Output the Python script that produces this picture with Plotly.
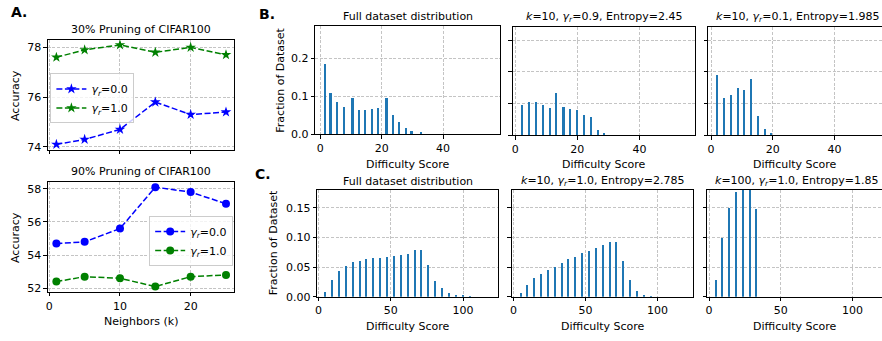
import plotly.graph_objects as go

W, H = 882, 341

# ---------------- data ----------------
neighbors = [1, 5, 10, 15, 20, 25]
acc30_g0 = [74.1, 74.3, 74.7, 75.8, 75.3, 75.4]
acc30_g1 = [77.6, 77.9, 78.1, 77.8, 78.0, 77.7]
acc90_g0 = [54.7, 54.8, 55.6, 58.1, 57.8, 57.1]
acc90_g1 = [52.4, 52.7, 52.6, 52.1, 52.7, 52.8]

b1_x = [1.6, 3.6, 5.6, 7.8, 10.7, 12.8, 14.7, 16.8, 18.8, 21.8, 23.8, 25.9, 28.0, 29.9, 33.0]
b1_y = [0.184, 0.108, 0.084, 0.072, 0.094, 0.063, 0.064, 0.065, 0.069, 0.095, 0.050, 0.031, 0.016, 0.008, 0.003]
b2_x = [2.1, 4.3, 6.6, 8.9, 11.1, 13.2, 15.5, 17.6, 19.9, 22.0, 24.2, 26.5, 28.6]
b2_y = [0.095, 0.102, 0.102, 0.095, 0.085, 0.131, 0.086, 0.081, 0.079, 0.062, 0.057, 0.014, 0.005]
b3_x = [2.1, 4.4, 6.5, 8.8, 10.9, 13.2, 15.3, 17.6, 19.7]
b3_y = [0.189, 0.115, 0.125, 0.149, 0.140, 0.177, 0.060, 0.019, 0.004]

c_x_full = [4.8, 9.5, 14.3, 19.0, 23.8, 28.6, 33.3, 38.1, 42.9, 47.6, 52.4, 57.1,
            61.9, 66.7, 71.4, 76.2, 81.0, 85.7, 90.5, 95.2, 100.0, 104.8]
c1_y = [0.0083, 0.029, 0.044, 0.052, 0.058, 0.061, 0.063, 0.065, 0.065, 0.067, 0.068, 0.070,
        0.072, 0.079, 0.079, 0.053, 0.027, 0.014, 0.007, 0.003, 0.0017, 0.001]
c2_x = [4.8, 9.5, 14.3, 19.0, 23.8, 28.6, 33.3, 38.1, 42.9, 47.6, 52.4, 57.1,
        61.9, 66.7, 71.4, 76.2, 81.0, 85.7, 90.5, 95.2]
c2_y = [0.0066, 0.020, 0.032, 0.0386, 0.045, 0.050, 0.057, 0.063, 0.067, 0.073, 0.078, 0.083,
        0.087, 0.093, 0.093, 0.060, 0.028, 0.010, 0.003, 0.001]
c3_x = [4.8, 9.5, 14.3, 19.0, 23.8, 28.6, 33.3]
c3_y = [0.029, 0.099, 0.150, 0.176, 0.200, 0.200, 0.148]

FONT = "DejaVu Sans"
BLUE = "#1f77b4"
GRID = "#c4c4c4"
GRIDDASH = "3px,1.6px"

def dx(a, b):
    return [a / W, b / W]

def dy(top, bottom):
    return [1 - bottom / H, 1 - top / H]

fig = go.Figure()

axes = {
    1: dict(xd=(46, 233), yd=(41, 153), xr=[-0.2, 26.2], yr=[73.88, 78.29],
            xt=[0, 10, 20], yt=[74, 76, 78], xl=False, yl=True, mr=True, yfmt=None),
    2: dict(xd=(46, 233), yd=(186, 298), xr=[-0.2, 26.2], yr=[51.78, 58.4],
            xt=[0, 10, 20], yt=[52, 54, 56, 58], xl=True, yl=True, mr=True, yfmt=None),
    3: dict(xd=(314, 499), yd=(27, 137), xr=[-1.6, 58.5], yr=[0, 0.285],
            xt=[0, 20, 40], yt=[0.0, 0.1, 0.2], xl=True, yl=True, mr=True, yfmt=".1f"),
    4: dict(xd=(512, 695), yd=(28, 138), xr=[-0.75, 58], yr=[0, 0.34],
            xt=[0, 20, 40], yt=[0.0, 0.1, 0.2, 0.3], xl=True, yl=False, mr=True, yfmt=None),
    5: dict(xd=(708, 882), yd=(28, 138), xr=[-0.87, 55.4], yr=[0, 0.34],
            xt=[0, 20, 40], yt=[0.0, 0.1, 0.2, 0.3], xl=True, yl=False, mr=False, yfmt=None),
    6: dict(xd=(316, 497), yd=(194, 303), xr=[-0.9, 124.1], yr=[0, 0.18],
            xt=[0, 50, 100], yt=[0.0, 0.05, 0.10, 0.15], xl=True, yl=True, mr=True, yfmt=".2f"),
    7: dict(xd=(511, 693), yd=(194, 303), xr=[-1.15, 124.9], yr=[0, 0.18],
            xt=[0, 50, 100], yt=[0.0, 0.05, 0.10, 0.15], xl=True, yl=False, mr=True, yfmt=None),
    8: dict(xd=(707, 882), yd=(194, 303), xr=[-1.2, 120.5], yr=[0, 0.18],
            xt=[0, 50, 100], yt=[0.0, 0.05, 0.10, 0.15], xl=True, yl=False, mr=False, yfmt=None),
}

layout = {}
for i, a in axes.items():
    xn = "xaxis" if i == 1 else f"xaxis{i}"
    yn = "yaxis" if i == 1 else f"yaxis{i}"
    ya = "y" if i == 1 else f"y{i}"
    xa = "x" if i == 1 else f"x{i}"
    layout[xn] = dict(domain=dx(*a["xd"]), range=a["xr"], anchor=ya,
                      tickmode="array", tickvals=a["xt"], showticklabels=a["xl"],
                      showline=True, linecolor="black", linewidth=1, mirror=True,
                      ticks="outside", ticklen=3.5, tickwidth=0.8, tickcolor="black",
                      showgrid=True, gridcolor=GRID, griddash=GRIDDASH, gridwidth=0.8,
                      zeroline=False, tickfont=dict(family=FONT, size=11, color="black"))
    ycfg = dict(domain=dy(*a["yd"]), range=a["yr"], anchor=xa,
                tickmode="array", tickvals=a["yt"], showticklabels=a["yl"],
                showline=True, linecolor="black", linewidth=1, mirror=a["mr"],
                ticks="outside", ticklen=3.5, tickwidth=0.8, tickcolor="black",
                showgrid=True, gridcolor=GRID, griddash=GRIDDASH, gridwidth=0.8,
                zeroline=False, tickfont=dict(family=FONT, size=11, color="black"))
    if a["yfmt"]:
        ycfg["tickformat"] = a["yfmt"]
    layout[yn] = ycfg

G0 = "<i>γ<sub>r</sub></i>=0.0"
G1 = "<i>γ<sub>r</sub></i>=1.0"
LDASH = "6px,2.5px"

fig.add_trace(go.Scatter(x=neighbors, y=acc30_g0, mode="lines+markers", name=G0,
                         line=dict(color="blue", dash=LDASH, width=1.5),
                         marker=dict(symbol="star", size=8, color="blue"),
                         xaxis="x", yaxis="y", legend="legend"))
fig.add_trace(go.Scatter(x=neighbors, y=acc30_g1, mode="lines+markers", name=G1,
                         line=dict(color="green", dash=LDASH, width=1.5),
                         marker=dict(symbol="star", size=8, color="green"),
                         xaxis="x", yaxis="y", legend="legend"))
fig.add_trace(go.Scatter(x=neighbors, y=acc90_g0, mode="lines+markers", name=G0,
                         line=dict(color="blue", dash=LDASH, width=1.5),
                         marker=dict(symbol="circle", size=8, color="blue"),
                         xaxis="x2", yaxis="y2", legend="legend2"))
fig.add_trace(go.Scatter(x=neighbors, y=acc90_g1, mode="lines+markers", name=G1,
                         line=dict(color="green", dash=LDASH, width=1.5),
                         marker=dict(symbol="circle", size=8, color="green"),
                         xaxis="x2", yaxis="y2", legend="legend2"))

bars = [(3, b1_x, b1_y, 0.65), (4, b2_x, b2_y, 0.65), (5, b3_x, b3_y, 0.65),
        (6, c_x_full, c1_y, 0.8), (7, c2_x, c2_y, 0.8), (8, c3_x, c3_y, 0.8)]
for i, xs, ys, w in bars:
    fig.add_trace(go.Bar(x=xs, y=ys, width=w, marker=dict(color=BLUE, line=dict(width=0)),
                         xaxis=f"x{i}", yaxis=f"y{i}", showlegend=False))

def ann(text, x, y, size=11, bold=False, angle=0, xanchor="center"):
    t = f"<b>{text}</b>" if bold else text
    return dict(text=t, x=x / W, y=1 - y / H, xref="paper", yref="paper",
                showarrow=False, xanchor=xanchor, yanchor="middle", textangle=angle,
                font=dict(family=FONT, size=size, color="black"))

K = "<i>k</i>"
GR = "<i>γ<sub>r</sub></i>"
annotations = [
    ann("A.", 7, 12, size=14, bold=True, xanchor="left"),
    ann("B.", 256, 14, size=14, bold=True, xanchor="left"),
    ann("C.", 252, 178, size=14, bold=True, xanchor="left"),
    ann("30% Pruning of CIFAR100", 139.5, 30),
    ann("90% Pruning of CIFAR100", 139.5, 175),
    ann("Accuracy", 13, 97, angle=-90),
    ann("Accuracy", 13, 242, angle=-90),
    ann("Neighbors (k)", 139.5, 328),
    ann("Full dataset distribution", 406.5, 17),
    ann(f"{K}=10, {GR}=0.9, Entropy=2.45", 603.5, 17),
    ann(f"{K}=10, {GR}=0.1, Entropy=1.985", 881, 17, xanchor="right"),
    ann("Fraction of Dataset", 279, 82, angle=-90),
    ann("Fraction of Dataset", 273, 248, angle=-90),
    ann("Difficulty Score", 406.5, 168),
    ann("Difficulty Score", 603.5, 168),
    ann("Difficulty Score", 795, 168),
    ann("Full dataset distribution", 406.5, 185),
    ann(f"{K}=10, {GR}=1.0, Entropy=2.785", 602, 185),
    ann(f"{K}=100, {GR}=1.0, Entropy=1.85", 880, 185, xanchor="right"),
    ann("Difficulty Score", 406.5, 333),
    ann("Difficulty Score", 602, 333),
    ann("Difficulty Score", 795, 333),
]

leg_common = dict(xanchor="left", yanchor="top", bgcolor="rgba(255,255,255,0.8)",
                  bordercolor="#cccccc", borderwidth=1,
                  font=dict(family=FONT, size=11, color="black"),
                  itemwidth=30, tracegroupgap=0)

fig.update_layout(
    width=W, height=H,
    margin=dict(l=0, r=0, t=0, b=0),
    paper_bgcolor="white", plot_bgcolor="white",
    showlegend=True, bargap=0,
    annotations=annotations,
    legend=dict(x=48.5 / W, y=1 - 75 / H, **leg_common),
    legend2=dict(x=147.5 / W, y=1 - 220.5 / H, **leg_common),
    **layout,
)

fig.write_html(
    "out.html",
    config={"displayModeBar": False},
    post_script="document.body.style.margin='0';document.body.style.padding='0';"
                "document.body.style.overflow='hidden';",
)
